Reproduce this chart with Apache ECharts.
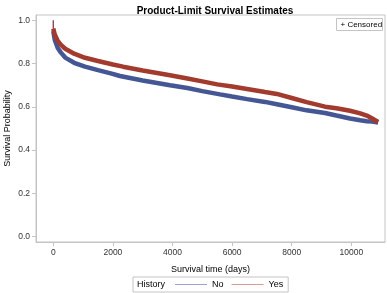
<!DOCTYPE html>
<html>
<head>
<meta charset="utf-8">
<script src="https://cdn.jsdelivr.net/npm/echarts@6/dist/echarts.min.js"></script>
<style>
  html, body { margin: 0; padding: 0; background: #fff; }
  #chart { width: 387px; height: 293px; }
</style>
</head>
<body>
<div id="chart"></div>
<script>
// survival estimates: [days, probability]
const noCurve = [
  [0, 0.95], [50, 0.91], [150, 0.872], [250, 0.852], [400, 0.828], [700, 0.804],
  [1064, 0.786], [1500, 0.77], [1960, 0.754], [2238, 0.743], [3000, 0.722],
  [3916, 0.700], [4500, 0.687], [5000, 0.673], [5594, 0.658], [6000, 0.648],
  [6500, 0.636], [7104, 0.623], [7500, 0.612], [8000, 0.598], [8500, 0.584],
  [9117, 0.572], [9500, 0.56], [9956, 0.546], [10300, 0.538], [10517, 0.534],
  [10700, 0.532], [10900, 0.528]
];
const yesCurve = [
  [0, 0.962], [50, 0.935], [150, 0.905], [250, 0.888], [400, 0.869], [700, 0.846],
  [1064, 0.827], [1500, 0.812], [2000, 0.796], [2340, 0.786], [3000, 0.768],
  [3916, 0.746], [4500, 0.731], [5000, 0.718], [5500, 0.704], [6000, 0.694],
  [6500, 0.683], [7104, 0.669], [7500, 0.66], [8000, 0.641], [8500, 0.622],
  [9117, 0.601], [9500, 0.594], [9956, 0.582], [10300, 0.57], [10517, 0.56],
  [10700, 0.546], [10900, 0.53]
];
// initial drop at time zero
const yesDrop = [[0, 1.0], [0, 0.962]];
const noDrop = [[0, 1.0], [0, 0.95]];

const xTicks = [0, 2000, 4000, 6000, 8000, 10000];
const yTicks = [0, 0.2, 0.4, 0.6, 0.8, 1.0];

const blue = "#445694";
const red = "#A23A2E";
const frame = "#c4c4c4";
const font = "Liberation Sans";

const chart = echarts.init(document.getElementById("chart"));

chart.setOption({
  animation: false,
  textStyle: { fontFamily: font },
  title: {
    text: "Product-Limit Survival Estimates",
    left: 210,
    textAlign: "center",
    top: 1,
    textStyle: { fontSize: 10, fontWeight: "bold", color: "#000", fontFamily: font }
  },
  grid: {
    left: 36, right: 2, top: 15, bottom: 51,
    outerBoundsMode: "none",
    containLabel: false,
    show: true, borderColor: frame, borderWidth: 1
  },
  xAxis: {
    type: "value",
    min: -580, max: 11130,
    name: "Survival time (days)",
    nameLocation: "middle",
    nameGap: 23,
    nameMoveOverlap: false,
    nameTextStyle: { fontSize: 9, color: "#000" },
    axisLine: { show: true, onZero: false, lineStyle: { color: frame } },
    axisTick: { show: true, customValues: xTicks, length: 4, lineStyle: { color: frame } },
    axisLabel: { customValues: xTicks, fontSize: 8.5, color: "#333", margin: 6, formatter: v => String(v) },
    splitLine: { show: false }
  },
  yAxis: {
    type: "value",
    min: -0.025, max: 1.025,
    name: "Survival Probability",
    nameLocation: "middle",
    nameGap: 24,
    nameMoveOverlap: false,
    nameTextStyle: { fontSize: 9, color: "#000" },
    axisLine: { show: true, onZero: false, lineStyle: { color: frame } },
    axisTick: { show: true, customValues: yTicks, length: 4, lineStyle: { color: frame } },
    axisLabel: {
      customValues: yTicks, fontSize: 8.5, color: "#333", margin: 6,
      formatter: v => v.toFixed(1)
    },
    splitLine: { show: false }
  },
  legend: {
    left: 133, top: 277,
    padding: [3, 5, 3, 42],
    borderColor: frame, borderWidth: 1,
    itemWidth: 32, itemHeight: 1, itemGap: 8,
    icon: "rect",
    textStyle: { fontSize: 9, color: "#000" },
    data: [
      { name: "No", itemStyle: { color: "#9aa3cc" } },
      { name: "Yes", itemStyle: { color: "#d49a93" } }
    ]
  },
  graphic: [
    {
      type: "text", left: 137, top: 280,
      style: { text: "History", fontSize: 9, fill: "#000", fontFamily: font }
    },
    {
      type: "group", right: 4, top: 18,
      children: [
        { type: "rect", shape: { x: 0, y: 0, width: 46, height: 12 },
          style: { fill: "#fff", stroke: frame, lineWidth: 1 } },
        { type: "text", x: 4, y: 2,
          style: { text: "+ Censored", fontSize: 8, fill: "#000", fontFamily: font } }
      ]
    }
  ],
  series: [
    {
      name: "No", type: "line", data: noCurve, showSymbol: false,
      lineStyle: { color: blue, width: 4.5 }, itemStyle: { color: blue }, z: 2
    },
    {
      name: "Yes", type: "line", data: yesCurve, showSymbol: false,
      lineStyle: { color: red, width: 4.5 }, itemStyle: { color: red }, z: 3
    },
    {
      name: "No", type: "line", data: noDrop, showSymbol: false,
      lineStyle: { color: blue, width: 1 }, z: 2
    },
    {
      name: "Yes", type: "line", data: yesDrop, showSymbol: false,
      lineStyle: { color: red, width: 1 }, z: 3
    }
  ]
});
</script>
</body>
</html>
